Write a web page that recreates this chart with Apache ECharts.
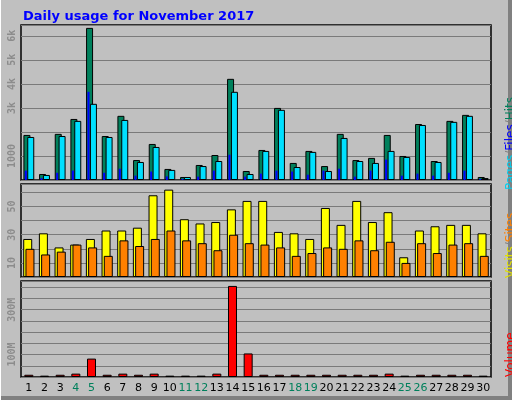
<!DOCTYPE html>
<html><head><meta charset="utf-8">
<script src="https://cdn.jsdelivr.net/npm/echarts@6/dist/echarts.min.js"></script>
<style>body{margin:0;background:#c0c0c0}#c{width:512px;height:400px}</style>
</head><body><div id="c"></div>
<script>
const days = ['1','2','3','4','5','6','7','8','9','10','11','12','13','14','15','16','17','18','19','20','21','22','23','24','25','26','27','28','29','30'];
const weekends = ['4','5','11','12','18','19','25','26'];
const hits  = [1875,250,1920,2540,6330,1830,2670,830,1500,460,125,625,1040,4210,375,1250,3000,710,1210,580,1920,830,920,1875,1000,2330,790,2460,2710,125];
const files = [1790,210,1830,2460,3170,1790,2500,750,1375,420,125,580,790,3670,250,1210,2920,540,1170,375,1750,790,710,1210,960,2290,750,2420,2670,80];
const pages = [390,80,300,390,3670,300,470,180,350,150,40,140,390,1050,140,265,390,350,220,390,470,140,390,850,180,265,180,300,390,40];
const visits = [27,31,21,23,27,33,33,35,58,62,41,38,39,48,54,54,32,31,27,49,37,54,39,46,14,33,36,37,37,31];
const sites  = [20,16,18,23,21,15,26,22,27,33,26,24,19,30,24,23,21,15,17,21,20,26,19,25,10,24,17,23,24,15];
const volumeM = [10,6,10,15,82,10,15,10,15,6,6,6,15,406,105,10,10,10,10,10,10,10,10,15,6,10,10,10,10,6];

const ch = echarts.init(document.getElementById('c'));
const gridBase = {show:true, backgroundColor:'#c0c0c0', borderColor:'#000', borderWidth:1.5, left:21, width:470};
const yLbl = {color:'#8c8c8c', fontFamily:'DejaVu Sans Mono', fontWeight:'bold', fontSize:10, rotate:90, margin:4};
const split = {lineStyle:{color:'#7a7a7a', width:1}};
const hx = (gi, show) => ({type:'category', data:days, gridIndex:gi, axisTick:{show:false}, axisLine:{show:false},
  axisLabel:{show:show, interval:0, margin:6, fontFamily:'DejaVu Sans', fontSize:11,
    formatter:v=> weekends.includes(v) ? '{g|'+v+'}' : '{b|'+v+'}',
    rich:{g:{color:'#00805c',fontSize:11,fontFamily:'DejaVu Sans'}, b:{color:'#000',fontSize:11,fontFamily:'DejaVu Sans'}}}});
const bs = c => ({color:c, borderColor:'#000', borderWidth:1});
ch.setOption({
  animation:false,
  backgroundColor:'#c0c0c0',
  title:{text:'Daily usage for November 2017', left:18, top:5, textStyle:{color:'#0000ff', fontFamily:'DejaVu Sans', fontWeight:'bold', fontSize:13}},
  grid:[Object.assign({top:25,height:155},gridBase), Object.assign({top:184,height:93},gridBase), Object.assign({top:281,height:96},gridBase)],
  xAxis:[hx(0,false), hx(0,false), hx(1,false), hx(2,true)],
  yAxis:[
    {gridIndex:0, min:0, max:6450, interval:1000, splitLine:split, axisLine:{show:false}, axisTick:{show:false},
     axisLabel:Object.assign({}, yLbl, {formatter:v=> v===1000?'1000': (v>=3000 && v<=6000 ? (v/1000)+'k' : '')})},
    {gridIndex:1, min:0, max:66, interval:10, splitLine:split, axisLine:{show:false}, axisTick:{show:false},
     axisLabel:Object.assign({}, yLbl, {formatter:v=> [10,30,50].includes(v)? String(v):''})},
    {gridIndex:2, min:0, max:428, interval:50, splitLine:split, axisLine:{show:false}, axisTick:{show:false},
     axisLabel:Object.assign({}, yLbl, {formatter:v=> [100,300].includes(v)? v+'M':''})}
  ],
  series:[
    {type:'bar', name:'Hits', xAxisIndex:0, yAxisIndex:0, data:hits, barWidth:7, barGap:'-45%', itemStyle:bs('#00805c')},
    {type:'bar', name:'Pages', xAxisIndex:1, yAxisIndex:0, data:pages, barWidth:2, barGap:'0%', itemStyle:{color:'#0000ff'}},
    {type:'bar', name:'pad', xAxisIndex:1, yAxisIndex:0, data:days.map(()=>null), barWidth:6, barGap:'0%'},
    {type:'bar', name:'Files', xAxisIndex:0, yAxisIndex:0, data:files, barWidth:7, barGap:'-45%', itemStyle:bs('#00e0ff')},
    {type:'bar', name:'Visits', xAxisIndex:2, yAxisIndex:1, data:visits, barWidth:9, barGap:'-75%', itemStyle:bs('#ffff00')},
    {type:'bar', name:'Sites', xAxisIndex:2, yAxisIndex:1, data:sites, barWidth:9, barGap:'-75%', itemStyle:bs('#ff8000')},
    {type:'bar', name:'Volume', xAxisIndex:3, yAxisIndex:2, data:volumeM, barWidth:9, itemStyle:bs('#ff0000')}
  ],
  graphic:[
    {type:'rect', shape:{x:508,y:0,width:4,height:400}, style:{fill:'#808080'}},
    {type:'rect', shape:{x:0,y:396,width:512,height:4}, style:{fill:'#808080'}},
    {type:'rect', shape:{x:0,y:0,width:1,height:400}, style:{fill:'#fff'}},
    {type:'text', x:505, y:190, rotation:Math.PI/2, style:{text:'{a|Pages}{s|/}{b|Files}{s|/}{c|Hits}', font:'12px DejaVu Sans',
      rich:{a:{fill:'#00d0f0',font:'12px DejaVu Sans'}, s:{fill:'#808080',font:'12px DejaVu Sans'}, b:{fill:'#0000ff',font:'12px DejaVu Sans'}, c:{fill:'#00805c',font:'12px DejaVu Sans'}}}},
    {type:'text', x:505, y:278, rotation:Math.PI/2, style:{text:'{a|Visits}{s|/}{b|Sites}', font:'12px DejaVu Sans',
      rich:{a:{fill:'#e0e000',font:'12px DejaVu Sans'}, s:{fill:'#808080',font:'12px DejaVu Sans'}, b:{fill:'#ff8000',font:'12px DejaVu Sans'}}}},
    {type:'text', x:505, y:377, rotation:Math.PI/2, style:{text:'Volume', fill:'#ff0000', font:'12px DejaVu Sans'}}
  ]
});
</script></body></html>
